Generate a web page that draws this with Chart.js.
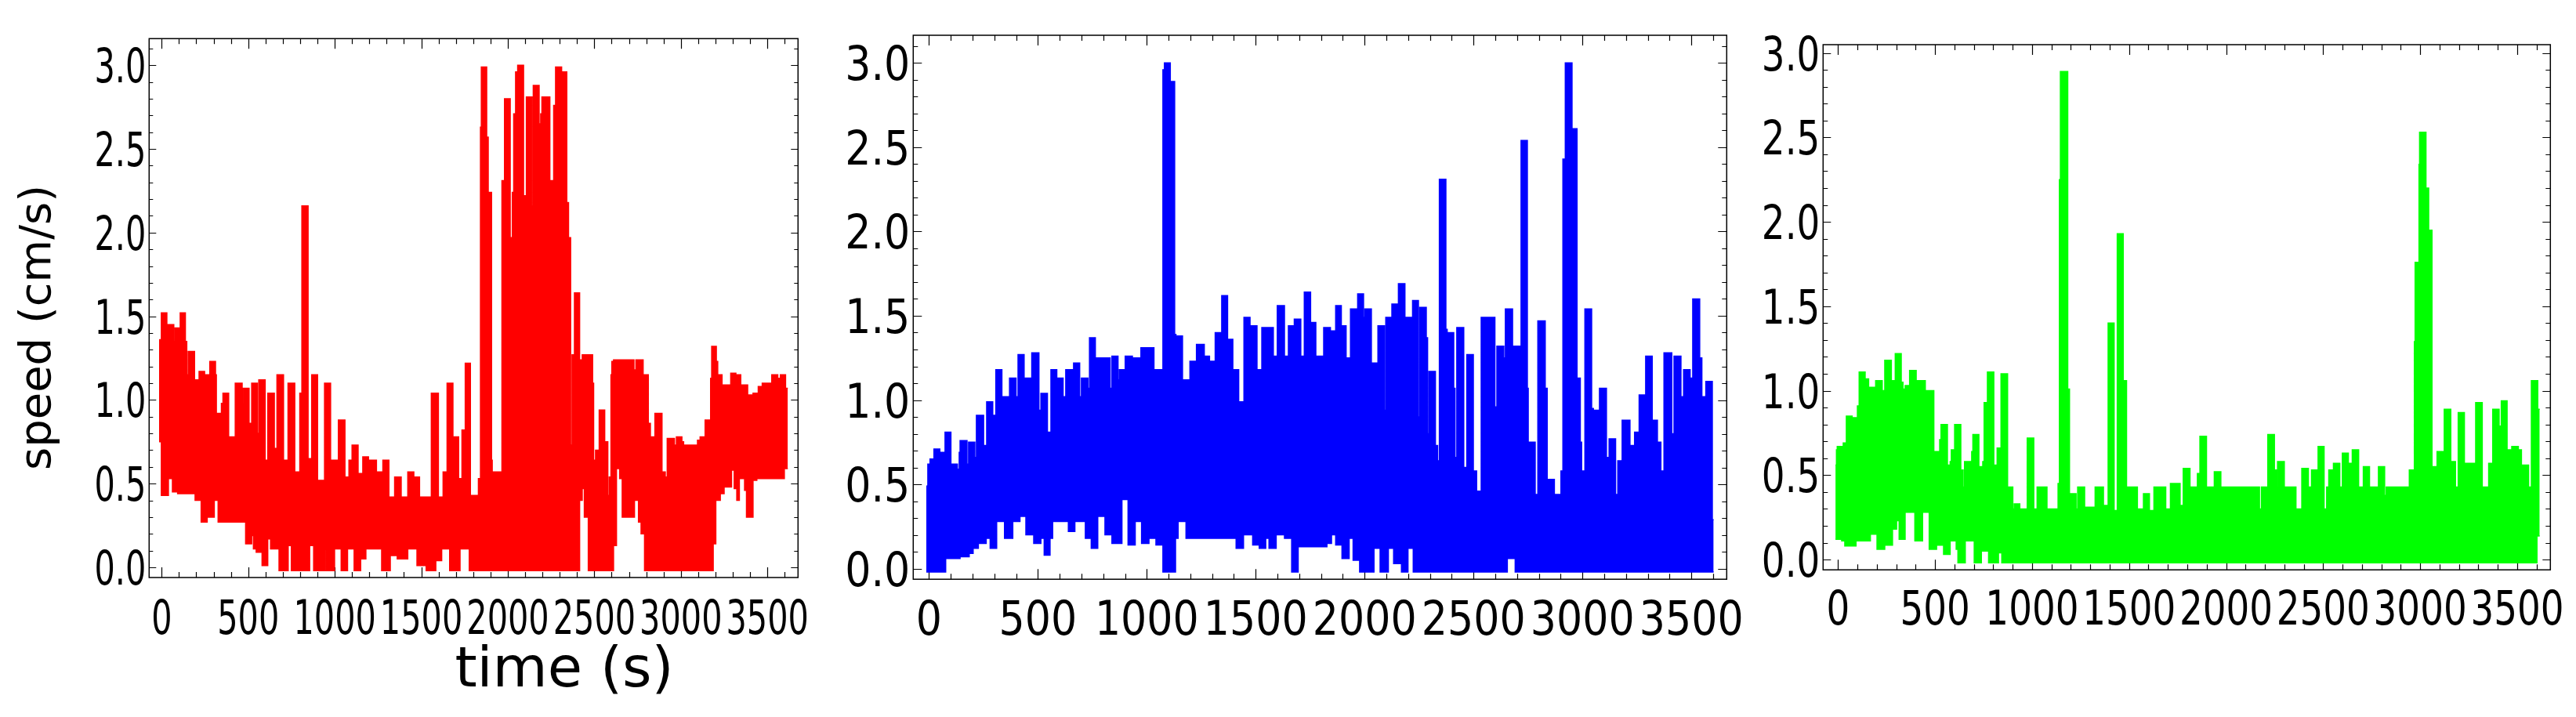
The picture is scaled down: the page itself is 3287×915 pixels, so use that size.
<!DOCTYPE html>
<html>
<head>
<meta charset="utf-8">
<title>speed vs time</title>
<script src="https://cdn.jsdelivr.net/npm/chart.js@4.4.1/dist/chart.umd.min.js"></script>
<style>
  html, body { margin: 0; padding: 0; background: #fff; }
  #wrap { position: relative; width: 3287px; height: 915px; overflow: hidden; }
  #wrap canvas { position: absolute; left: 0; top: 0; }
</style>
</head>
<body>
<div id="wrap">
  <canvas id="red" width="3287" height="915"></canvas>
  <canvas id="blue" width="3287" height="915"></canvas>
  <canvas id="green" width="3287" height="915"></canvas>
</div>
<script>
// tick labels
const xTicks = [0, 500, 1000, 1500, 2000, 2500, 3000, 3500];
const yTicks = [0.0, 0.5, 1.0, 1.5, 2.0, 2.5, 3.0];

// red run: upper and lower edge of the speed trace (time in s, speed in cm/s)
const p1UpT = [-15, -2, 30, 70, 77, 107, 137, 145, 153, 190,
  216, 248, 278, 311, 316, 345, 354, 387, 425, 465,
  470, 505, 520, 553, 561, 598, 613, 651, 666, 704,
  730, 769, 798, 810, 846, 867, 901, 941, 976, 1021,
  1059, 1082, 1100, 1135, 1162, 1195, 1241, 1278, 1313, 1346,
  1384, 1422, 1457, 1490, 1558, 1599, 1626, 1649, 1683, 1716,
  1735, 1754, 1784, 1830, 1842, 1847, 1878, 1887, 1906, 1910,
  1966, 1981, 2014, 2026, 2034, 2045, 2057, 2091, 2107, 2140,
  2147, 2181, 2190, 2197, 2243, 2265, 2276, 2311, 2341, 2351,
  2363, 2371, 2385, 2415, 2430, 2490, 2496, 2507, 2528, 2560,
  2578, 2586, 2596, 2601, 2611, 2729, 2740, 2782, 2812, 2824,
  2850, 2891, 2910, 2921, 2963, 2974, 3006, 3016, 3096, 3111,
  3140, 3172, 3178, 3205, 3213, 3238, 3288, 3318, 3346, 3386,
  3417, 3447, 3470, 3525, 3560, 3575, 3605, 3618];
const p1UpV = [1.36, 1.52, 1.45, 1.35, 1.43, 1.52, 1.35, 1.15, 1.29, 1.12,
  1.17, 1.15, 1.23, 1.15, 0.92, 0.98, 1.04, 0.78, 1.10, 0.98,
  1.07, 0.86, 1.10, 0.80, 1.12, 0.64, 1.04, 0.71, 1.15, 0.64,
  1.10, 0.57, 1.04, 2.16, 0.65, 1.15, 0.52, 1.10, 0.64, 0.88,
  0.54, 0.64, 0.73, 0.56, 0.66, 0.64, 0.57, 0.64, 0.42, 0.54,
  0.42, 0.57, 0.54, 0.42, 1.04, 0.42, 0.57, 1.10, 0.78, 0.53,
  0.82, 1.22, 0.43, 0.53, 2.63, 2.99, 2.57, 2.24, 0.64, 0.57,
  2.31, 2.80, 1.97, 2.24, 2.71, 2.96, 3.00, 2.22, 2.81, 2.16,
  2.88, 2.65, 2.71, 2.81, 2.31, 2.76, 2.99, 2.96, 2.18, 1.97,
  0.73, 1.27, 1.64, 1.24, 1.27, 1.10, 0.64, 0.70, 0.94, 0.75,
  0.43, 0.54, 1.15, 1.23, 1.24, 1.18, 1.24, 1.15, 0.86, 0.78,
  0.92, 0.57, 0.54, 0.77, 0.73, 0.78, 0.75, 0.73, 0.76, 0.78,
  0.88, 1.13, 1.32, 1.23, 1.15, 1.09, 1.16, 1.15, 1.09, 1.03,
  1.04, 1.08, 1.10, 1.15, 1.13, 1.15, 1.07, 1.07];
const p1LoT = [-15, -2, 39, 62, 92, 193, 228, 263, 269, 304,
  326, 485, 520, 530, 546, 580, 613, 629, 678, 731,
  749, 855, 878, 946, 953, 999, 1037, 1074, 1112, 1150,
  1180, 1271, 1321, 1361, 1422, 1475, 1528, 1584, 1618, 1664,
  1724, 1777, 2415, 2430, 2442, 2465, 2611, 2628, 2646, 2661,
  2732, 2755, 2770, 2790, 3187, 3202, 3228, 3250, 3293, 3308,
  3323, 3338, 3368, 3379, 3417, 3439, 3598, 3618];
const p1LoV = [0.75, 0.43, 0.53, 0.45, 0.44, 0.40, 0.27, 0.40, 0.30, 0.40,
  0.27, 0.14, 0.19, 0.11, 0.09, 0.01, 0.17, 0.11, -0.02, 0.13,
  -0.02, 0.13, -0.02, 0.11, -0.02, 0.11, -0.02, 0.11, -0.02, 0.05,
  0.11, -0.02, 0.07, 0.05, 0.11, 0.01, -0.02, 0.04, 0.11, -0.02,
  0.11, -0.02, 0.40, 0.47, 0.30, -0.02, 0.13, 0.59, 0.53, 0.30,
  0.40, 0.27, 0.20, -0.02, 0.14, 0.40, 0.44, 0.48, 0.58, 0.47,
  0.40, 0.53, 0.46, 0.30, 0.52, 0.53, 0.59, 0.59];

// blue run
const p2UpT = [-12, -5, 5, 23, 50, 74, 101, 131, 139, 143,
  175, 182, 211, 218, 251, 265, 293, 307, 335, 370,
  400, 409, 437, 472, 505, 514, 544, 560, 587, 616,
  628, 661, 664, 692, 700, 730, 737, 764, 832, 840,
  868, 874, 901, 934, 973, 1033, 1074, 1081, 1108, 1128,
  1134, 1164, 1198, 1228, 1264, 1288, 1314, 1344, 1371, 1395,
  1422, 1446, 1474, 1506, 1528, 1581, 1599, 1632, 1650, 1677,
  1707, 1723, 1752, 1776, 1812, 1843, 1867, 1893, 1915, 1935,
  1968, 1995, 2001, 2031, 2061, 2091, 2097, 2125, 2155, 2185,
  2215, 2220, 2247, 2253, 2283, 2289, 2295, 2325, 2335, 2343,
  2373, 2379, 2409, 2415, 2423, 2455, 2469, 2499, 2514, 2535,
  2598, 2607, 2639, 2646, 2679, 2715, 2718, 2747, 2751, 2783,
  2795, 2829, 2838, 2871, 2901, 2910, 2921, 2952, 2975, 2990,
  2996, 3011, 3042, 3050, 3078, 3110, 3122, 3152, 3162, 3182,
  3218, 3239, 3260, 3290, 3320, 3344, 3360, 3374, 3410, 3420,
  3452, 3464, 3494, 3506, 3538, 3548, 3566, 3596, 3602];
const p2UpV = [0.49, 0.62, 0.65, 0.71, 0.69, 0.81, 0.62, 0.59, 0.69, 0.76,
  0.62, 0.75, 0.66, 0.91, 0.73, 0.99, 0.91, 1.18, 1.02, 1.13,
  1.02, 1.27, 1.13, 1.28, 0.94, 1.04, 0.81, 1.18, 1.13, 1.02,
  1.18, 1.02, 1.22, 1.02, 1.13, 1.07, 1.37, 1.25, 1.07, 1.26,
  1.12, 1.18, 1.26, 1.25, 1.31, 1.18, 2.96, 3.00, 2.89, 1.39,
  1.38, 1.12, 1.23, 1.33, 1.26, 1.23, 1.40, 1.62, 1.36, 1.18,
  0.99, 1.49, 1.44, 1.18, 1.43, 1.26, 1.56, 1.26, 1.44, 1.48,
  1.26, 1.64, 1.46, 1.26, 1.43, 1.41, 1.56, 1.44, 1.25, 1.54,
  1.63, 1.49, 1.54, 1.22, 1.44, 0.94, 1.49, 1.57, 1.69, 1.49,
  1.26, 1.59, 0.90, 1.55, 1.37, 0.80, 1.17, 0.73, 0.64, 2.31,
  1.42, 1.40, 1.07, 0.66, 1.43, 0.60, 1.27, 0.58, 0.46, 1.49,
  0.96, 1.32, 1.25, 1.54, 1.32, 1.25, 2.54, 1.07, 0.75, 0.44,
  1.47, 1.07, 0.53, 0.44, 0.58, 2.43, 3.00, 2.61, 1.13, 0.75,
  0.58, 1.54, 0.95, 0.94, 1.07, 0.66, 0.77, 0.44, 0.64, 0.88,
  0.73, 0.81, 1.03, 1.26, 0.88, 0.75, 0.58, 1.28, 0.80, 1.26,
  1.02, 1.18, 1.13, 1.60, 1.25, 1.02, 1.11, 0.29, 0.29];
const p2LoT = [-12, 77, 143, 185, 203, 227, 263, 281, 311, 347,
  385, 418, 445, 481, 514, 529, 556, 568, 640, 670,
  718, 745, 775, 808, 840, 886, 914, 947, 976, 1010,
  1042, 1074, 1132, 1144, 1180, 1410, 1444, 1486, 1516, 1546,
  1561, 1594, 1632, 1665, 1695, 1827, 1848, 1867, 1896, 1929,
  1947, 1977, 2043, 2071, 2109, 2133, 2169, 2199, 2223, 2655,
  2691, 3602];
const p2LoV = [-0.02, 0.06, 0.07, 0.09, 0.12, 0.15, 0.18, 0.12, 0.28, 0.18,
  0.28, 0.31, 0.20, 0.15, 0.18, 0.08, 0.18, 0.28, 0.22, 0.28,
  0.18, 0.12, 0.31, 0.20, 0.15, 0.41, 0.14, 0.28, 0.15, 0.18,
  0.14, -0.02, 0.18, 0.28, 0.18, 0.12, 0.20, 0.14, 0.12, 0.18,
  0.12, 0.20, 0.18, -0.02, 0.13, 0.15, 0.20, 0.14, 0.06, 0.18,
  0.05, -0.02, 0.12, -0.02, 0.12, 0.03, -0.02, 0.12, -0.02, 0.06,
  -0.02, -0.02];

// green run
const p3UpT = [-13, -8, -4, 27, 43, 73, 100, 109, 140, 158,
  194, 228, 234, 241, 275, 295, 326, 335, 346, 369,
  403, 450, 494, 524, 531, 564, 578, 584, 601, 633,
  645, 652, 689, 695, 726, 746, 753, 770, 803, 820,
  840, 874, 901, 908, 937, 975, 1009, 1026, 1077, 1134,
  1141, 1146, 1184, 1193, 1227, 1235, 1271, 1325, 1368, 1392,
  1423, 1439, 1470, 1487, 1543, 1574, 1605, 1628, 1689, 1713,
  1763, 1779, 1814, 1852, 1865, 1899, 1939, 1973, 2172, 2182,
  2215, 2249, 2259, 2265, 2300, 2360, 2390, 2424, 2440, 2474,
  2505, 2518, 2529, 2553, 2586, 2599, 2630, 2650, 2683, 2707,
  2739, 2785, 2817, 2825, 2944, 2970, 2974, 2994, 2997, 3030,
  3044, 3061, 3087, 3124, 3158, 3182, 3196, 3228, 3286, 3320,
  3353, 3374, 3407, 3418, 3448, 3472, 3506, 3522, 3559, 3573,
  3606, 3616];
const p3UpV = [0.56, 0.65, 0.67, 0.69, 0.85, 0.84, 0.91, 1.11, 1.07, 1.02,
  1.06, 0.90, 1.00, 1.18, 1.06, 1.22, 1.05, 1.01, 1.03, 1.12,
  1.06, 1.00, 0.64, 0.71, 0.80, 0.56, 0.58, 0.65, 0.80, 0.53,
  0.43, 0.58, 0.64, 0.74, 0.55, 0.58, 0.93, 1.11, 0.56, 0.66,
  1.10, 0.43, 0.30, 0.33, 0.30, 0.72, 0.30, 0.43, 0.30, 0.45,
  2.25, 2.89, 1.01, 0.39, 0.30, 0.43, 0.31, 0.43, 0.32, 1.40,
  0.29, 1.93, 1.06, 0.43, 0.30, 0.39, 0.29, 0.43, 0.30, 0.45,
  0.32, 0.54, 0.43, 0.51, 0.73, 0.43, 0.52, 0.43, 0.30, 0.43,
  0.74, 0.53, 0.43, 0.58, 0.43, 0.30, 0.54, 0.43, 0.53, 0.67,
  0.30, 0.43, 0.53, 0.57, 0.43, 0.63, 0.57, 0.65, 0.43, 0.55,
  0.43, 0.55, 0.38, 0.43, 0.53, 1.29, 1.76, 2.34, 2.53, 2.20,
  1.95, 0.55, 0.64, 0.89, 0.58, 0.43, 0.87, 0.57, 0.93, 0.43,
  0.57, 0.89, 0.79, 0.94, 0.65, 0.67, 0.65, 0.56, 0.43, 1.06,
  0.89, 0.89];
const p3LoT = [-13, 19, 35, 93, 167, 201, 241, 281, 302, 315,
  346, 396, 436, 470, 508, 544, 578, 609, 618, 656,
  702, 739, 776, 827, 844, 3602, 3616];
const p3LoV = [0.12, 0.11, 0.08, 0.11, 0.15, 0.06, 0.085, 0.18, 0.23, 0.12,
  0.28, 0.11, 0.28, 0.06, 0.085, 0.03, 0.11, 0.06, -0.02, 0.11,
  -0.02, 0.05, -0.02, 0.04, -0.02, 0.14, 0.14];

// frame with inward ticks on all four sides, plus squeezed tick labels
const axesFrame = {
  id: 'axesFrame',
  beforeDatasetsDraw(chart, args, o) {
    const { ctx, chartArea: a, scales: { x, y } } = chart;
    ctx.save();
    ctx.strokeStyle = '#000';
    ctx.lineWidth = 1.2;
    ctx.beginPath();
    for (let v = 0; v <= 3600; v += 100) {
      const px = Math.round(x.getPixelForValue(v)) + 0.5;
      const len = v % 500 === 0 ? 13 : 7;
      ctx.moveTo(px, a.bottom); ctx.lineTo(px, a.bottom - len);
      ctx.moveTo(px, a.top); ctx.lineTo(px, a.top + len);
    }
    for (let i = 0; i <= 31; i++) {
      const v = i / 10;
      if (v > y.max) break;
      const py = Math.round(y.getPixelForValue(v)) + 0.5;
      const len = i % 5 === 0 ? o.yMajor : o.yMinor;
      ctx.moveTo(a.left, py); ctx.lineTo(a.left + len, py);
      ctx.moveTo(a.right, py); ctx.lineTo(a.right - len, py);
    }
    ctx.stroke();
    ctx.lineWidth = 1.5;
    ctx.strokeRect(a.left, a.top, a.right - a.left, a.bottom - a.top);

    ctx.fillStyle = '#000';
    ctx.font = '60px "DejaVu Sans", sans-serif';
    ctx.textBaseline = 'alphabetic';
    ctx.textAlign = 'center';
    xTicks.forEach((v) => {
      ctx.save();
      ctx.translate(x.getPixelForValue(v), a.bottom + o.xDrop);
      ctx.scale(o.squeeze, 1);
      ctx.fillText(String(v), 0, 0);
      ctx.restore();
    });
    ctx.textAlign = 'right';
    yTicks.forEach((v) => {
      ctx.save();
      ctx.translate(a.left - 4, y.getPixelForValue(v) + 22);
      ctx.scale(o.squeeze, 1);
      ctx.fillText(v.toFixed(1), 0, 0);
      ctx.restore();
    });

    if (o.xTitle) {
      ctx.font = '72px "DejaVu Sans", sans-serif';
      ctx.textAlign = 'center';
      ctx.fillText(o.xTitle, o.xTitleX, o.xTitleY);
    }
    if (o.yTitle) {
      // rotated text with a non-uniform scale renders too small, so keep it plain
      ctx.save();
      ctx.font = '56px "DejaVu Sans", sans-serif';
      ctx.textAlign = 'center';
      ctx.translate(o.yTitleX, o.yTitleY);
      ctx.rotate(-Math.PI / 2);
      ctx.fillText(o.yTitle, 0, 15);
      ctx.restore();
    }
    ctx.restore();
  },
};

function toPoints(ts, vs) {
  return ts.map((t, i) => ({ x: t, y: vs[i] }));
}

function makePanel(id, color, up, lo, pad, xr, yr, frameOpts) {
  return new Chart(document.getElementById(id), {
    type: 'line',
    data: {
      datasets: [
        {
          data: toPoints(up[0], up[1]),
          borderColor: color,
          backgroundColor: color,
          borderWidth: 1.5,
          pointRadius: 0,
          stepped: true,
          fill: '+1',
        },
        {
          data: toPoints(lo[0], lo[1]),
          borderColor: color,
          borderWidth: 1.5,
          pointRadius: 0,
          stepped: true,
          fill: false,
        },
      ],
    },
    options: {
      responsive: false,
      animation: false,
      devicePixelRatio: 1,
      events: [],
      layout: { padding: pad },
      scales: {
        x: { type: 'linear', min: xr[0], max: xr[1], display: false },
        y: { type: 'linear', min: yr[0], max: yr[1], display: false },
      },
      plugins: {
        legend: { display: false },
        tooltip: { enabled: false },
        axesFrame: frameOpts,
      },
    },
    plugins: [axesFrame],
  });
}

makePanel('red', '#ff0000', [p1UpT, p1UpV], [p1LoT, p1LoV],
  { left: 190.3, right: 2268.7, top: 49.3, bottom: 178 },
  [-72.5, 3677], [-0.061, 3.159],
  { squeeze: 0.69, yMajor: 9, yMinor: 5, xDrop: 72,
    xTitle: 'time (s)', xTitleX: 720, xTitleY: 876,
    yTitle: 'speed (cm/s)', yTitleX: 49, yTitleY: 418 });

makePanel('blue', '#0000ff', [p2UpT, p2UpV], [p2LoT, p2LoV],
  { left: 1165.3, right: 1083.7, top: 45, bottom: 175.8 },
  [-72, 3662], [-0.063, 3.164],
  { squeeze: 0.87, yMajor: 11, yMinor: 6, xDrop: 71 });

makePanel('green', '#00ff00', [p3UpT, p3UpV], [p3LoT, p3LoV],
  { left: 2326.3, right: 32.7, top: 57, bottom: 187.8 },
  [-76.7, 3671], [-0.061, 3.049],
  { squeeze: 0.78, yMajor: 10, yMinor: 6, xDrop: 70 });
</script>
</body>
</html>
